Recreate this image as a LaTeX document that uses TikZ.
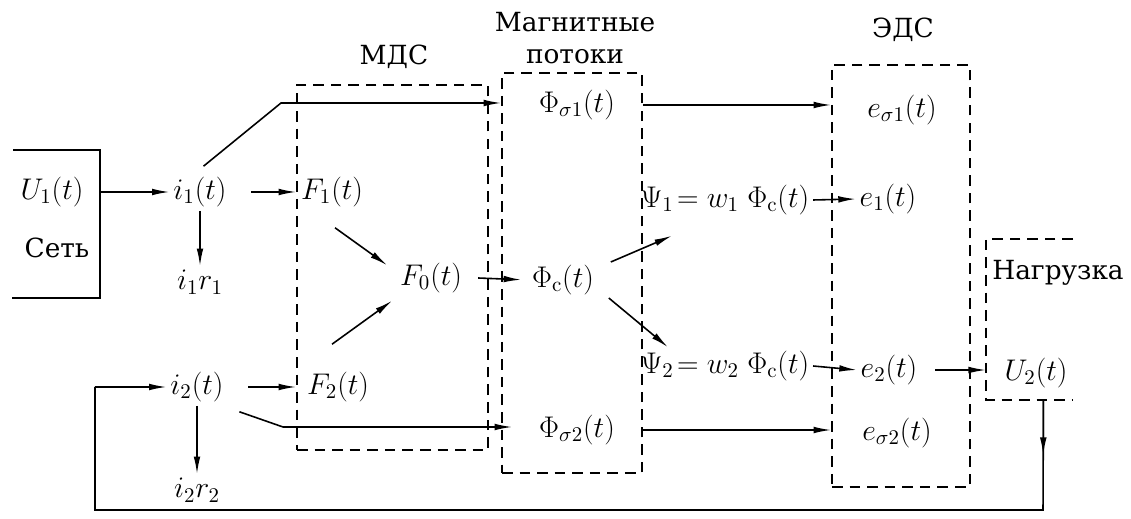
\RequirePackage{fix-cm}
\documentclass[tikz,border=0pt]{standalone}
\usepackage[no-math]{fontspec}
\setmainfont{DejaVu Serif}
\usetikzlibrary{arrows.meta, positioning, fit, calc}

\tikzstyle{sig} = [inner sep=2pt, font=\fontsize{17}{20}\selectfont]
\tikzstyle{title} = [inner sep=1pt, align=center, font=\fontsize{15}{18}\selectfont]
\tikzstyle{block} = [draw, line width=0.9pt, dash pattern=on 6pt off 4pt, inner sep=0pt]
\tikzstyle{wire} = [line width=0.9pt]
\tikzstyle{arrow} = [wire, -{Latex[length=10pt, width=3.8pt]}]

\begin{document}
\begin{tikzpicture}[x=0.02cm, y=-0.02cm]
  \useasboundingbox (0,0) rectangle (1131,519);

  % Dashed blocks
  \node[block, fit={(297,85) (488,450)}] (mds) {};
  \node[block, fit={(502,73) (642,473)}] (mag) {};
  \node[block, fit={(832,65) (970,487)}] (emf) {};

  % Block titles
  \node[title] (mdsT) at (394,57) {МДС};
  \node[title] (magT) at (575,38) {Магнитные\\потоки};
  \node[title] (emfT) at (903,30) {ЭДС};

  % Network box (open on the left)
  \coordinate (netTL) at (13,150);
  \coordinate (netTR) at (100,150);
  \coordinate (netBR) at (100,298);
  \coordinate (netBL) at (12,298);
  \draw[wire] (netTL) -- (netTR) -- (netBR) -- (netBL);

  % Load box (open on the right)
  \coordinate (loadTR) at (1073,239);
  \coordinate (loadTL) at (986,239);
  \coordinate (loadBL) at (986,400);
  \coordinate (loadBR) at (1073,400);
  \draw[block] (loadTR) -- (loadTL) -- (loadBL) -- (loadBR);

  % Signals
  \node[sig] (U1) at (52,192) {$U_1(t)$};
  \node[title] (net) at (57,248) {Сеть};
  \node[sig] (i1) at (200,192) {$i_1(t)$};
  \node[sig] (i1r1) at (200,282) {$i_1r_1$};
  \node[sig] (i2) at (197,387) {$i_2(t)$};
  \node[sig] (i2r2) at (197,490) {$i_2r_2$};
  \node[sig] (F1) at (332,192) {$F_1(t)$};
  \node[sig] (F2) at (338,387) {$F_2(t)$};
  \node[sig] (F0) at (431,278) {$F_0(t)$};
  \node[sig] (phis1) at (577,105) {$\Phi_{\sigma1}(t)$};
  \node[sig] (phic) at (563,280) {$\Phi_{\mathrm{c}}(t)$};
  \node[sig] (phis2) at (577,430) {$\Phi_{\sigma2}(t)$};
  \node[sig, anchor=west] (psi1) at (637,200) {$\Psi_1\!= w_1\;\Phi_{\mathrm{c}}(t)$};
  \node[sig, anchor=west] (psi2) at (637,366) {$\Psi_2\!= w_2\;\Phi_{\mathrm{c}}(t)$};
  \node[sig] (es1) at (902,110) {$e_{\sigma1}(t)$};
  \node[sig] (e1) at (888,199) {$e_1(t)$};
  \node[sig] (e2) at (889,370) {$e_2(t)$};
  \node[sig] (es2) at (897,433) {$e_{\sigma2}(t)$};
  \node[sig] (U2) at (1036,373) {$U_2(t)$};
  \node[title] (load) at (1058,273) {Нагрузка};

  % Bends
  \coordinate (k1) at (281,103);
  \coordinate (k2) at (283,427);
  \coordinate (fbA) at ($(loadBL)!0.66!(loadBR)$);
  \coordinate (fbB) at (1043,510);
  \coordinate (fbC) at (95,510);
  \coordinate (fbD) at (95,387);

  % Network side
  \draw[arrow] (U1 -| netTR) -- (i1.west);
  \draw[arrow] ([xshift=12pt]i1.east) -- (F1 -| mds.west);
  \draw[arrow] (i1.south) -- (i1r1.north);
  \draw[arrow] ([xshift=2pt, yshift=4pt]i1.north) -- (k1) -- (k1 -| mag.west);
  \draw[arrow] ([xshift=12pt]i2.east) -- (F2 -| mds.west);
  \draw[arrow] (i2.south) -- (i2r2.north);
  \draw[arrow] ($(i2.south east)+(12,6)$) -- (k2) -- ($(k2 -| mag.west)+(11,0)$);

  % MDS to fluxes
  \draw[arrow] ($(F1.south)+(3,17)$) -- ($(F0.north west)+(-9,6)$);
  \draw[arrow] ($(F2.north)+(-6,-24)$) -- ($(F0.south west)+(-4,4)$);
  \draw[arrow, shorten >=4pt] ([xshift=7pt]F0.east) -- (phic.west);

  % Fluxes to EMF
  \draw[arrow] ($(phic.east)+(13,-18)$) -- ($(psi1.south west)+(35,17)$);
  \draw[arrow] ($(phic.east)+(11,18)$) -- ($(psi2.north west)+(31,0)$);
  \draw[arrow] (psi1.east) -- (e1.west);
  \draw[arrow] (psi2.east) -- (e2.west);
  \draw[arrow] (phis1 -| mag.east) -- (phis1 -| emf.west);
  \draw[arrow] (phis2 -| mag.east) -- (phis2 -| emf.west);

  % Load and feedback
  \draw[arrow] ([xshift=8pt]e2.east) -- (e2 -| loadTL);
  \draw[arrow] (fbA) -- ($(fbA)!0.5!(fbB)$);
  \draw[wire] (fbA) -- (fbB) -- (fbC) -- (fbD);
  \draw[arrow] (fbD) -- (i2.west);

\end{tikzpicture}
\end{document}
